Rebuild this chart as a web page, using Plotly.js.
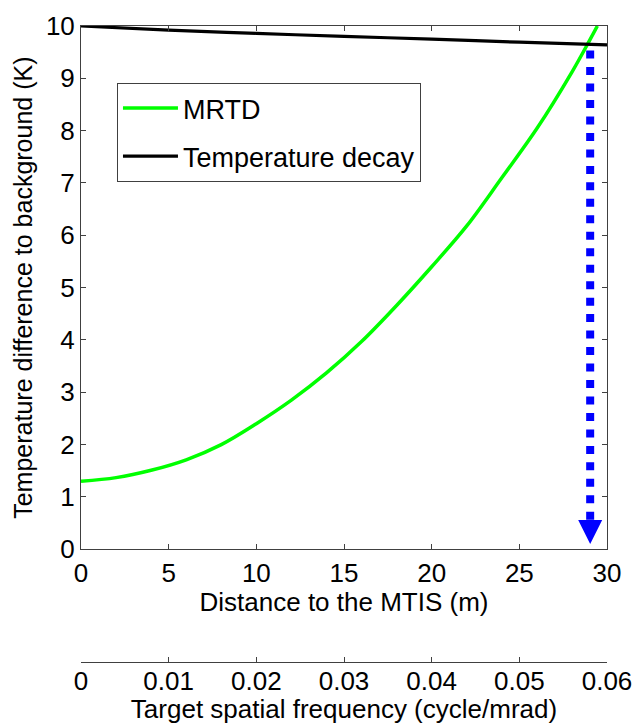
<!DOCTYPE html>
<html>
<head>
<meta charset="utf-8">
<script src="https://cdn.plot.ly/plotly-3.0.1.min.js"></script>
<style>html,body{margin:0;padding:0;background:#fff;}#chart{width:635px;height:724px;}</style>
</head>
<body>
<div id="chart"></div>
<script>
// Data
var mrtdDistance = [0, 2, 4, 6, 8, 10, 12, 14, 16, 18, 20, 22, 24, 26, 28, 29, 29.45];
var mrtdValues   = [1.30, 1.37, 1.51, 1.71, 2.00, 2.40, 2.85, 3.37, 3.97, 4.66, 5.40, 6.18, 7.10, 8.04, 9.12, 9.72, 10.0];
var decayDistance = [0, 5, 10, 15, 20, 25, 30];
var decayValues   = [10.0, 9.92, 9.86, 9.80, 9.75, 9.69, 9.64];
var rangeDistance = [29.04, 29.04];      // dotted blue marker of detection range
var rangeLevels   = [9.53, 0.55];        // from crossing down to arrow head
var arrowTip = 0.10;
var distanceTicks = [0, 5, 10, 15, 20, 25, 30];
var tempTicks = [0, 1, 2, 3, 4, 5, 6, 7, 8, 9, 10];
var freqTicks = [0, 0.01, 0.02, 0.03, 0.04, 0.05, 0.06];
var freqTickLabels = ['0', '0.01', '0.02', '0.03', '0.04', '0.05', '0.06'];

var FONT = 'Arial, "Liberation Sans", sans-serif';
var axisColor = '#404040';

var traces = [
  {x: mrtdDistance, y: mrtdValues, type: 'scatter', mode: 'lines', name: 'MRTD',
   line: {color: '#00ff00', width: 3.5, shape: 'spline'}, legendgroup: 'a'},
  {x: decayDistance, y: decayValues, type: 'scatter', mode: 'lines', name: 'Temperature decay',
   line: {color: '#000000', width: 3.2, shape: 'spline'}, legendgroup: 'b'},
  {x: rangeDistance, y: rangeLevels, type: 'scatter', mode: 'lines', showlegend: false,
   line: {color: '#0000ff', width: 8, dash: '8px,8.47px'}},
  {x: [], y: [], xaxis: 'x2', yaxis: 'y', type: 'scatter', mode: 'lines', showlegend: false}
];

var layout = {
  width: 635, height: 724,
  margin: {l: 81, r: 28, t: 26, b: 62, pad: 0},
  paper_bgcolor: '#ffffff', plot_bgcolor: '#ffffff',
  font: {family: FONT, size: 25, color: '#000'},
  showlegend: true,
  legend: {x: 0.0684, y: 0.9104, xanchor: 'left', yanchor: 'top',
    bgcolor: '#ffffff', bordercolor: axisColor, borderwidth: 1,
    font: {family: FONT, size: 27, color: '#000'},
    tracegroupgap: 10, itemwidth: 55},
  xaxis: {range: [0, 30], tickvals: distanceTicks, ticks: 'inside', ticklen: 5, tickcolor: axisColor,
    showline: true, linecolor: axisColor, linewidth: 1, mirror: 'ticks', showgrid: false, zeroline: false,
    anchor: 'y', tickfont: {size: 26},
    title: {text: 'Distance to the MTIS (m)', font: {size: 26}, standoff: 3}},
  yaxis: {range: [0, 10], tickvals: tempTicks, ticks: 'inside', ticklen: 5, tickcolor: axisColor,
    showline: true, linecolor: axisColor, linewidth: 1, mirror: 'ticks', showgrid: false, zeroline: false,
    domain: [0.1772, 1], tickfont: {size: 26},
    title: {text: 'Temperature difference to background (K)', font: {size: 25}, standoff: 6}},
  xaxis2: {range: [0, 0.06], tickvals: freqTicks, ticktext: freqTickLabels, overlaying: 'x', anchor: 'free', position: 0,
    side: 'bottom', ticks: 'inside', ticklen: 5, tickcolor: axisColor, ticklabelstandoff: -4,
    showline: true, linecolor: axisColor, linewidth: 1, showgrid: false, zeroline: false, tickfont: {size: 26},
    title: {text: 'Target spatial frequency (cycle/mrad)', font: {size: 26}, standoff: 4}},
  annotations: [{
    x: rangeDistance[1], y: arrowTip, ax: rangeDistance[1], ay: rangeLevels[1],
    xref: 'x', yref: 'y', axref: 'x', ayref: 'y', text: '', showarrow: true,
    arrowhead: 2, arrowsize: 2.4, arrowwidth: 2, arrowcolor: '#0000ff'
  }]
};

Plotly.newPlot('chart', traces, layout, {staticPlot: true, displayModeBar: false});
</script>
</body>
</html>
